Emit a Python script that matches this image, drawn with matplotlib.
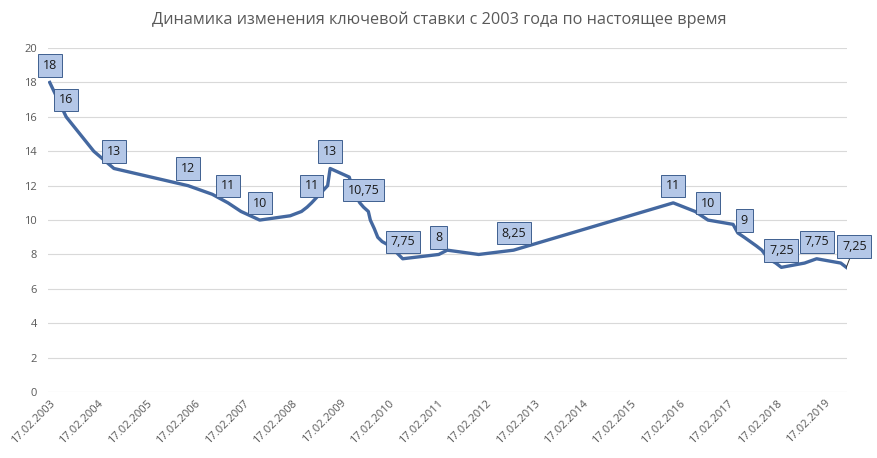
import datetime as dt
import matplotlib
matplotlib.use("Agg")
import matplotlib.pyplot as plt

plt.rcParams['font.family'] = ['Open Sans', 'DejaVu Sans']

dates = ["17.02.2003", "21.06.2003", "15.01.2004", "15.06.2004", "26.12.2005",
         "26.06.2006", "23.10.2006", "29.01.2007", "19.06.2007", "04.02.2008",
         "29.04.2008", "10.06.2008", "14.07.2008", "12.11.2008", "01.12.2008",
         "24.04.2009", "14.05.2009", "05.06.2009", "13.07.2009", "10.08.2009",
         "15.09.2009", "30.09.2009", "30.10.2009", "25.11.2009", "28.12.2009",
         "24.02.2010", "29.03.2010", "30.04.2010", "01.06.2010", "28.02.2011",
         "03.05.2011", "26.12.2011", "14.09.2012", "01.01.2016", "14.06.2016",
         "19.09.2016", "27.03.2017", "02.05.2017", "19.06.2017", "18.09.2017",
         "30.10.2017", "18.12.2017", "12.02.2018", "26.03.2018", "17.09.2018",
         "17.12.2018", "17.06.2019", "29.07.2019"]
rates = [18, 16, 14, 13, 12, 11.5, 11, 10.5, 10, 10.25, 10.5, 10.75, 11, 12, 13,
         12.5, 12, 11.5, 11, 10.75, 10.5, 10, 9.5, 9, 8.75, 8.5, 8.25, 8, 7.75,
         8, 8.25, 8, 8.25, 11, 10.5, 10, 9.75, 9.25, 9, 8.5, 8.25, 7.75, 7.5,
         7.25, 7.5, 7.75, 7.5, 7.25]
# points that carry a data label
labeled = [0, 1, 3, 4, 6, 8, 12, 14, 19, 28, 29, 32, 33, 35, 38, 43, 45, 47]
tick_years = list(range(2003, 2020))

title = "Динамика изменения ключевой ставки с 2003 года по настоящее время"

x = [dt.datetime.strptime(d, "%d.%m.%Y") for d in dates]

fig = plt.figure(figsize=(8.78, 4.58), dpi=100)
ax = fig.add_axes([0.0547, 0.144, 0.910, 0.751])

ax.plot(x, rates, color='#4468A0', lw=2.4, solid_joinstyle='round', zorder=3)

px = 72 / 100  # pixels -> points
box = dict(boxstyle='square,pad=0.38', fc='#B4C7E7', ec='#3F5F8F', lw=0.7)
for i in labeled:
    txt = f"{rates[i]:g}".replace('.', ',')
    if i == len(rates) - 1:
        ax.annotate(txt, (x[i], rates[i]), xytext=(8 * px, 21 * px),
                    textcoords='offset points', ha='center', va='center',
                    fontsize=9, color='#1a1a1a', bbox=box, zorder=5,
                    annotation_clip=False,
                    arrowprops=dict(arrowstyle='-', color='#333333', lw=0.7,
                                    shrinkA=0, shrinkB=0))
    else:
        ax.annotate(txt, (x[i], rates[i]), xytext=(0, 17 * px),
                    textcoords='offset points', ha='center', va='center',
                    fontsize=9, color='#1a1a1a', bbox=box, zorder=5)

ax.set_ylim(0, 20)
ax.set_yticks(range(0, 21, 2))
ax.set_xlim(dt.datetime(2003, 2, 4), dt.datetime(2019, 8, 3))
ticks = [dt.datetime(y, 2, 17) for y in tick_years]
ax.set_xticks(ticks)
ax.set_xticklabels([t.strftime("%d.%m.%Y") for t in ticks], rotation=45,
                   ha='right', va='top', rotation_mode='anchor')
ax.tick_params(axis='x', length=0, pad=4, labelsize=8, labelcolor='#595959')
ax.tick_params(axis='y', length=0, pad=8, labelsize=8, labelcolor='#595959')
ax.grid(axis='y', color='#D9D9D9', lw=0.8)
ax.set_axisbelow(True)
for s in ax.spines.values():
    s.set_visible(False)

fig.text(0.5, 0.956, title, ha='center', va='center', fontsize=11.7,
         color='#595959')

fig.savefig("out.png", dpi=100)
